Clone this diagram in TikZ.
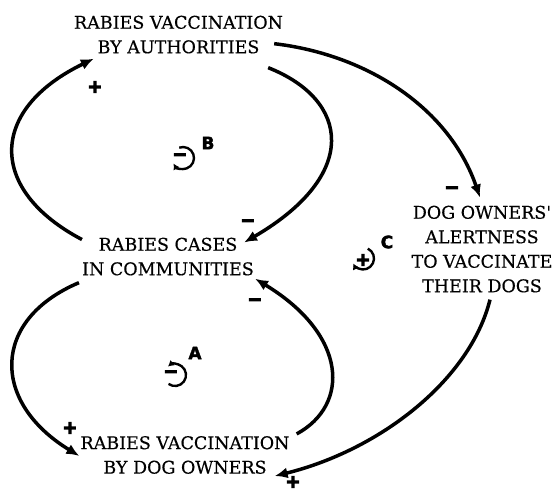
\documentclass[tikz,border=0pt]{standalone}
\usepackage{fontspec}
\newfontfamily\varfont{DejaVu Serif}[FakeBold=0.4]
\newfontfamily\signfont{DejaVu Sans Bold}[FakeBold=8]
\newfontfamily\loopfont{DejaVu Sans Bold}[FakeBold=2]
\usetikzlibrary{arrows.meta,calc}

\begin{document}
\begin{tikzpicture}[x=1pt,y=-1pt,
  var/.style={font=\varfont\fontsize{17.5}{24.5}\selectfont, align=center, inner sep=0pt},
  link/.style={line width=3.5pt, -{Latex[length=13pt,width=11pt]}},
  sign/.style={font=\signfont\fontsize{17}{17}\selectfont, inner sep=0pt},
  looplbl/.style={font=\loopfont\fontsize{17}{17}\selectfont, inner sep=0pt},
  loopring/.style={line width=2.4pt, -{Latex[length=6pt,width=7pt]}}]
\useasboundingbox (0,0) rectangle (555,492);

% variables
\node[var] (auth)   at (178.5,34.6) {RABIES VACCINATION\\BY AUTHORITIES};
\node[var] (cases)  at (168,256.6)  {RABIES CASES\\IN COMMUNITIES};
\node[var] (owners) at (185,455)    {RABIES VACCINATION\\BY DOG OWNERS};
\node[var] (alert)  at (482,249.1)  {DOG OWNERS'\\ALERTNESS\\TO VACCINATE\\THEIR DOGS};

% causal links
\draw[link] ($(cases.north west)+(0,2)$) .. controls (-12,190) and (-12,110) .. ($(auth.south west)+(20,5)$);
\draw[link] ($(auth.south east)+(-15,14)$) .. controls (350,100) and (360,175) .. ($(cases.north east)+(-10,5)$);
\draw[link] ($(auth.south east)+(-9,-10)$) .. controls (370,55) and (450,110) .. ($(alert.north)+(-2,-8)$);
\draw[link] ($(cases.south west)+(-3,7)$) .. controls (-9,320) and (-9,402) .. ($(owners.west)+(-1,1)$);
\draw[link] ($(owners.north east)+(7,-2)$) .. controls (350,405) and (348,335) .. ($(cases.south east)+(1,3)$);
\draw[link] ($(alert.south)+(8,7)$) .. controls (470,380) and (380,450) .. ($(owners.south east)+(-15,2)$);

% link polarities
\node[sign] (s1) at (95,87)   {+};
\node[sign] (s2) at (248,223) {−};
\node[sign] (s3) at (452,190) {−};
\node[sign] (s4) at (70,428)  {+};
\node[sign] (s5) at (255,302) {−};
\node[sign] (s6) at (293,482) {+};

% loop markers
\draw[loopring] (183,158) ++(-110:11) arc[start angle=-110, end angle=150, radius=11];
\node[sign] (lb) at (180,157) {−};
\node[looplbl] (B) at (208,143) {B};

\draw[loopring] (175,375) ++(126:11) arc[start angle=126, end angle=-130, radius=11];
\node[sign] (la) at (171,374) {−};
\node[looplbl] (A) at (195,353) {A};

\draw[loopring] (363,258.5) ++(-64:11) arc[start angle=-64, end angle=153, radius=11];
\node[sign] (lc) at (363,260) {+};
\node[looplbl] (C) at (387,242) {C};
\end{tikzpicture}
\end{document}
